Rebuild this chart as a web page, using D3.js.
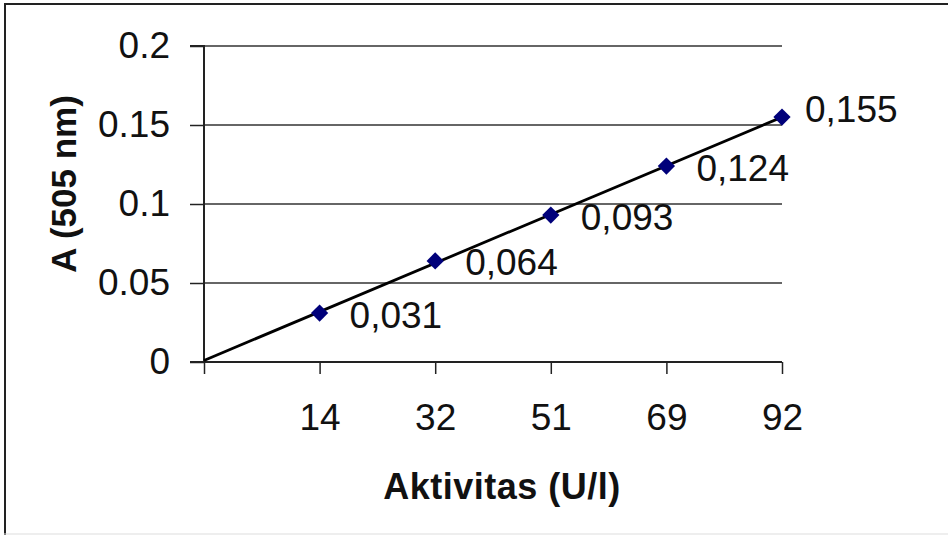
<!DOCTYPE html>
<html>
<head>
<meta charset="utf-8">
<script src="https://cdn.jsdelivr.net/npm/d3@7"></script>
<style>
  html, body { margin: 0; padding: 0; background: #fff; }
  svg { display: block; }
  text { font-family: "Liberation Sans", Arial, sans-serif; fill: #111; }
</style>
</head>
<body>
<svg id="chart" width="948" height="535"></svg>
<script>
// ---- data ----
const categories = ["14", "32", "51", "69", "92"];
const absorbance = [0.031, 0.064, 0.093, 0.124, 0.155];
const pointLabels = ["0,031", "0,064", "0,093", "0,124", "0,155"];
const yTicks = [0, 0.05, 0.1, 0.15, 0.2];
const yTickLabels = ["0", "0.05", "0.1", "0.15", "0.2"];
const xTitle = "Aktivitas (U/l)";
const yTitle = "A (505 nm)";

(function () {
const svg = d3.select("#chart");
const W = 948, H = 535;

// frame
svg.append("line").attr("x1", 4).attr("x2", W).attr("y1", 4).attr("y2", 4).attr("stroke", "#222").attr("stroke-width", 2);
svg.append("line").attr("x1", 5).attr("x2", 5).attr("y1", 3).attr("y2", H).attr("stroke", "#222").attr("stroke-width", 2);
svg.append("line").attr("x1", 4).attr("x2", W).attr("y1", 534).attr("y2", 534).attr("stroke", "#ddd").attr("stroke-width", 1);

const pL = 204, pR = 782, pT = 46, pB = 362;
const x = d3.scaleLinear().domain([0, categories.length]).range([pL, pR]);
const y = d3.scaleLinear().domain([0, 0.2]).range([pB, pT]);

// gridlines
svg.append("g")
  .selectAll("line")
  .data(yTicks.filter(d => d > 0))
  .join("line")
  .attr("x1", pL).attr("x2", pR)
  .attr("y1", d => y(d)).attr("y2", d => y(d))
  .attr("stroke", "#333").attr("stroke-width", 1.3);

// y axis
const yAxis = d3.axisLeft(y).tickValues(yTicks)
  .tickFormat((d, i) => yTickLabels[i]).tickSize(14).tickPadding(20);
const gy = svg.append("g").attr("transform", `translate(${pL},0)`).call(yAxis);
gy.select(".domain").attr("stroke", "#222").attr("stroke-width", 2).attr("d", `M-14,${pT}H0V${pB}H-14`);
gy.selectAll(".tick line").attr("stroke", "#222").attr("stroke-width", 1.5);
gy.selectAll(".tick text").attr("font-size", 37).attr("fill", "#111")
  .attr("font-family", "Liberation Sans, Arial, sans-serif");

// x axis
const xIdx = d3.range(0, categories.length + 1);
const xAxis = d3.axisBottom(x).tickValues(xIdx)
  .tickFormat(i => i === 0 ? "" : categories[i - 1]).tickSize(12).tickPadding(30);
const gx = svg.append("g").attr("transform", `translate(0,${pB})`).call(xAxis);
gx.select(".domain").attr("stroke", "#222").attr("stroke-width", 2).attr("d", `M${pL - 14},0H${pR}`);
gx.selectAll(".tick line").attr("stroke", "#222").attr("stroke-width", 1.5);
gx.selectAll(".tick text").attr("font-size", 37).attr("fill", "#111")
  .attr("font-family", "Liberation Sans, Arial, sans-serif");

// trendline (least squares on category index)
const xs = absorbance.map((d, i) => i + 1);
const mx = d3.mean(xs), my = d3.mean(absorbance);
const slope = d3.sum(xs.map((xi, i) => (xi - mx) * (absorbance[i] - my))) / d3.sum(xs.map(xi => (xi - mx) ** 2));
const intercept = my - slope * mx;
svg.append("line")
  .attr("x1", x(0)).attr("y1", y(intercept))
  .attr("x2", x(categories.length)).attr("y2", y(intercept + slope * categories.length))
  .attr("stroke", "#000").attr("stroke-width", 2.8);

// markers
const diamond = d3.symbol().type(d3.symbolDiamond2).size(190);
svg.append("g").selectAll("path")
  .data(absorbance)
  .join("path")
  .attr("d", diamond)
  .attr("transform", (d, i) => `translate(${x(i + 1)},${y(d)})`)
  .attr("fill", "#00007a");

// point labels
svg.append("g").selectAll("text")
  .data(absorbance)
  .join("text")
  .attr("x", (d, i) => x(i + 1) + (i === absorbance.length - 1 ? 23 : 30))
  .attr("y", (d, i) => y(d) + (i === absorbance.length - 1 ? -8 : 2))
  .attr("dominant-baseline", "central")
  .attr("font-size", 37)
  .text((d, i) => pointLabels[i]);

// axis titles
svg.append("text")
  .attr("x", 502).attr("y", 499)
  .attr("text-anchor", "middle")
  .attr("font-size", 36).attr("font-weight", "bold")
  .attr("letter-spacing", 0.5)
  .text(xTitle);

svg.append("text")
  .attr("transform", "translate(76,184) rotate(-90)")
  .attr("text-anchor", "middle")
  .attr("font-size", 35).attr("font-weight", "bold")
  .text(yTitle);
})();
</script>
</body>
</html>
